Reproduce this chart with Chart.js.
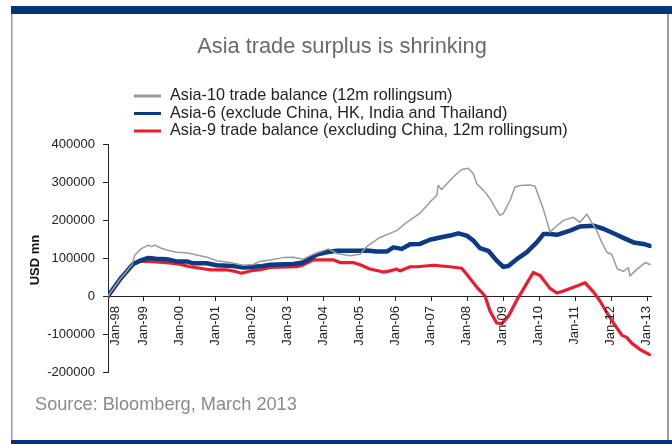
<!DOCTYPE html>
<html>
<head>
<meta charset="utf-8">
<script src="https://cdn.jsdelivr.net/npm/chart.js@4.4.1/dist/chart.umd.min.js"></script>
<style>
  html, body { margin: 0; padding: 0; background: #fff; }
  #chart { display: block; }
</style>
</head>
<body>
<canvas id="chart" width="672" height="444"></canvas>
<script>
// January tick labels, one every 12 months starting Jan-98
const yearLabels = ['Jan-98', 'Jan-99', 'Jan-00', 'Jan-01', 'Jan-02', 'Jan-03', 'Jan-04', 'Jan-05',
  'Jan-06', 'Jan-07', 'Jan-08', 'Jan-09', 'Jan-10', 'Jan-11', 'Jan-12', 'Jan-13'];

const seriesNames = [
  'Asia-10 trade balance (12m rollingsum)',
  'Asia-6 (exclude China, HK, India and Thailand)',
  'Asia-9 trade balance (excluding China, 12m rollingsum)'
];

// months since Jan-98, values in USD mn
const asia10Months = [0, 4, 8, 9, 11, 13.5, 14.5, 15.7, 17.4, 19.6, 22.9, 26.3, 30.7, 33, 36.3, 40.7, 45.2, 48.5,
  50.8, 54.1, 58.6, 61.9, 65.2, 68.6, 73.6, 76.4, 80.8, 84.2, 86.4, 90.8, 96.4, 99.8, 104.2, 107.5, 109.8, 110.3,
  111.4, 115.3, 118.1, 120.3, 122, 123.1, 125.4, 127.6, 129.8, 130.9, 132, 134.3, 135.9, 137.6, 140.9, 142.6,
  145.4, 146.5, 147.6, 149.3, 152.1, 155.4, 157.6, 159.9, 163.2, 164.9, 166.6, 168.2, 170.1, 172.1, 173.8, 174.3,
  176.6, 179.4, 181];
const asia10Values = [0, 44000, 82000, 108000, 124000, 134000, 130000, 134000, 127000, 121000, 115000, 114000,
  106000, 102000, 93000, 88000, 81000, 83000, 91000, 95000, 101000, 102000, 97000, 110000, 124000, 112000, 106000,
  110000, 130000, 154000, 172000, 194000, 218000, 247000, 265000, 291000, 280000, 313000, 333000, 336000, 322000,
  296000, 278000, 256000, 225000, 212000, 217000, 252000, 287000, 291000, 292000, 289000, 228000, 199000, 168000,
  181000, 199000, 207000, 194000, 215000, 172000, 141000, 115000, 110000, 71000, 65000, 75000, 53000, 70000,
  88000, 83000];

const asia6Months = [0, 4, 8.4, 10.7, 13.5, 16, 19.6, 22.9, 26.3, 28.5, 33, 36.3, 41.9, 45.2, 48.5, 50.8, 54.1,
  61.9, 65.2, 69.7, 73, 76.4, 84.2, 86.4, 89.7, 93.1, 95.3, 98.1, 100.9, 104.2, 107.5, 110.9, 114.2, 117, 119.8,
  122, 124.2, 127, 129.8, 132, 133.7, 136.5, 139.8, 143.2, 145.4, 147.6, 149.9, 154.3, 157.6, 162.1, 165.4, 168.8,
  172.1, 175.5, 178.8, 181];
const asia6Values = [0, 44000, 84000, 93000, 100000, 98000, 97000, 91000, 91000, 86000, 86000, 81000, 79000,
  75000, 77000, 78000, 82000, 84000, 88000, 109000, 115000, 119000, 119000, 120000, 117000, 117000, 128000, 124000,
  136000, 137000, 148000, 154000, 159000, 165000, 159000, 146000, 126000, 119000, 93000, 77000, 79000, 97000,
  115000, 141000, 163000, 163000, 161000, 172000, 183000, 185000, 177000, 165000, 153000, 141000, 137000, 132000];

const asia9Months = [0, 4, 8, 10.7, 13.5, 19.6, 24, 27.4, 30.7, 34, 39.5, 42.9, 44.6, 47.4, 50.8, 54.1, 63, 65.2,
  68.6, 75.3, 77.5, 81.9, 84.2, 87.5, 92, 94.2, 96.4, 97.5, 100.9, 103.1, 108.7, 114.2, 118.1, 119.8, 123.1, 125.9,
  127.6, 129.8, 131.5, 133.7, 136.5, 139.3, 142, 144.3, 147.6, 149.9, 152.1, 156.5, 159.3, 162.1, 164.3, 166.6,
  168.8, 171.6, 173.2, 174.9, 177.7, 180.8];
const asia9Values = [-3000, 42000, 82000, 91000, 91000, 88000, 84000, 77000, 73000, 69000, 69000, 64000, 60000,
  66000, 69000, 75000, 77000, 82000, 95000, 95000, 88000, 88000, 82000, 71000, 63000, 66000, 71000, 66000, 77000,
  77000, 81000, 77000, 73000, 57000, 24000, 0, -40000, -71000, -73000, -53000, -11000, 26000, 62000, 54000, 20000,
  8000, 13000, 26000, 35000, 11000, -13000, -44000, -71000, -103000, -109000, -124000, -141000, -154000];

const toPoints = (months, values) => months.map((m, i) => ({ x: m, y: values[i] }));

const FONT = '"Liberation Sans", Arial, Helvetica, sans-serif';
const NAVY = '#033578';

// frame, title, legend, axis titles, month labels and source line
const decorations = {
  id: 'decorations',
  beforeDraw(chart) {
    const ctx = chart.ctx;
    ctx.save();
    ctx.fillStyle = '#fff';
    ctx.fillRect(0, 0, chart.width, chart.height);
    ctx.fillStyle = NAVY;
    ctx.fillRect(11, 6, 661, 8);
    ctx.fillRect(11, 440, 661, 4);
    ctx.fillStyle = '#9c9c9c';
    ctx.fillRect(11, 14, 1.5, 426);
    ctx.fillRect(667, 14, 2, 426);
    ctx.restore();
  },
  afterDraw(chart) {
    const ctx = chart.ctx;
    ctx.save();
    ctx.textBaseline = 'middle';

    ctx.fillStyle = '#6a6a6a';
    ctx.font = '21.8px ' + FONT;
    ctx.textAlign = 'center';
    ctx.fillText('Asia trade surplus is shrinking', 342, 47);

    ctx.textAlign = 'left';
    ctx.font = '16.2px ' + FONT;
    chart.data.datasets.forEach((ds, i) => {
      const y = 96 + i * 17.5;
      ctx.strokeStyle = ds.borderColor;
      ctx.lineWidth = 3;
      ctx.beginPath();
      ctx.moveTo(134, y);
      ctx.lineTo(161, y);
      ctx.stroke();
      ctx.fillStyle = '#222';
      ctx.fillText(ds.label, 170, y);
    });

    ctx.fillStyle = '#8a8a8a';
    ctx.font = '18.2px ' + FONT;
    ctx.fillText('Source: Bloomberg, March 2013', 35, 405);

    // vertical month labels hanging under the zero line
    const xs = chart.scales.x;
    const y0 = chart.scales.y.getPixelForValue(0);
    ctx.fillStyle = '#222';
    ctx.font = '13px ' + FONT;
    ctx.textAlign = 'right';
    yearLabels.forEach((label, i) => {
      const px = xs.getPixelForValue(i * 12) + (i === 0 ? 7 : -0.5);
      ctx.save();
      ctx.translate(px, y0 + 10);
      ctx.rotate(-Math.PI / 2);
      ctx.fillText(label, 0, 0);
      ctx.restore();
    });

    ctx.translate(35, 260);
    ctx.rotate(-Math.PI / 2);
    ctx.textAlign = 'center';
    ctx.fillStyle = '#111';
    ctx.font = 'bold 13px ' + FONT;
    ctx.fillText('USD mn', 0, 0);
    ctx.restore();
  }
};

new Chart(document.getElementById('chart'), {
  type: 'line',
  data: {
    datasets: [
      { label: seriesNames[0], data: toPoints(asia10Months, asia10Values), borderColor: '#9b9b9b', borderWidth: 1.5 },
      { label: seriesNames[1], data: toPoints(asia6Months, asia6Values), borderColor: '#0b3b84', borderWidth: 4.5 },
      { label: seriesNames[2], data: toPoints(asia9Months, asia9Values), borderColor: '#ec1b2e', borderWidth: 3.2 }
    ]
  },
  options: {
    responsive: false,
    animation: false,
    events: [],
    layout: { padding: { top: 144, right: 20.5, bottom: 72, left: 0 } },
    elements: {
      point: { radius: 0 },
      line: { tension: 0, borderJoinStyle: 'round', borderCapStyle: 'round' }
    },
    plugins: {
      legend: { display: false },
      title: { display: false },
      tooltip: { enabled: false }
    },
    scales: {
      x: {
        type: 'linear',
        position: { y: 0 },
        min: 0,
        max: 181.5,
        afterFit: (scale) => { scale.height = 0; },
        afterBuildTicks: (scale) => {
          scale.ticks = yearLabels.map((_, i) => ({ value: i * 12 }));
        },
        ticks: { display: false },
        grid: { drawOnChartArea: false, drawTicks: true, tickLength: 4, color: '#222' },
        border: { color: '#222', width: 1 }
      },
      y: {
        min: -200000,
        max: 400000,
        afterFit: (scale) => { scale.width = 108; },
        ticks: {
          stepSize: 100000,
          padding: 8,
          color: '#222',
          font: { family: FONT, size: 13 },
          callback: (v) => String(v)
        },
        grid: { drawOnChartArea: false, drawTicks: true, tickLength: 5, color: '#222' },
        border: { color: '#222', width: 1 }
      }
    }
  },
  plugins: [decorations]
});
</script>
</body>
</html>
